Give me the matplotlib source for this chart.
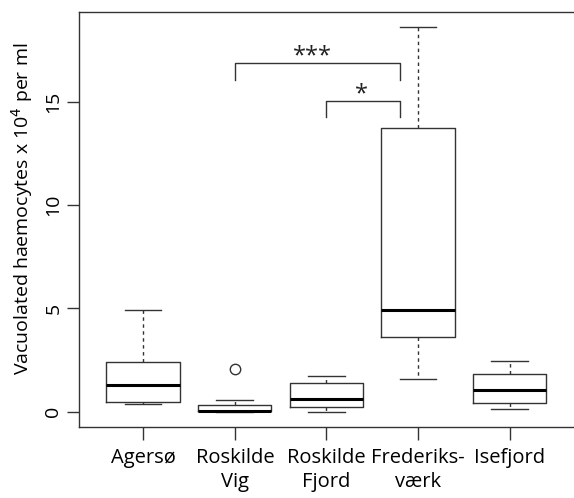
import matplotlib
matplotlib.use('Agg')
import matplotlib.pyplot as plt

plt.rcParams['font.family'] = ['Open Sans', 'DejaVu Sans']

sites = ['Agersø', 'Roskilde\nVig', 'Roskilde\nFjord', 'Frederiks-\nværk', 'Isefjord']

# box statistics (x 10^4 cells per ml)
whislo = [0.37, 0.0, 0.0, 1.56, 0.14]
q1 = [0.47, 0.01, 0.24, 3.61, 0.42]
med = [1.29, 0.05, 0.60, 4.91, 1.05]
q3 = [2.42, 0.34, 1.37, 13.73, 1.80]
whishi = [4.90, 0.55, 1.72, 18.63, 2.45]
fliers = [[], [2.04], [], [], []]

# significance brackets: from box, to box, bracket top, leg bottom, label
sig_from = [2, 3]
sig_to = [3.8, 3.8]
sig_top = [16.86, 15.02]
sig_leg = [16.04, 14.27]
sig_label = ['***', '*']

stats = []
for i in range(len(sites)):
    stats.append(dict(med=med[i], q1=q1[i], q3=q3[i], whislo=whislo[i],
                      whishi=whishi[i], fliers=fliers[i]))

fig = plt.figure(figsize=(5.74, 4.98), dpi=100)
ax = fig.add_axes([0.1376, 0.1426, 0.8624, 0.8333])

grey = '#333333'
ax.bxp(stats, positions=range(1, 6), widths=0.8,
       boxprops=dict(color=grey, lw=1.0),
       medianprops=dict(color='black', lw=2.2),
       whiskerprops=dict(color=grey, lw=1.0, linestyle=(0, (2.5, 2.5))),
       capprops=dict(color=grey, lw=1.0),
       capwidths=0.4,
       flierprops=dict(marker='o', markerfacecolor='none', markeredgecolor=grey,
                       markersize=7.5, markeredgewidth=1.0))

for a, b, top, leg, lab in zip(sig_from, sig_to, sig_top, sig_leg, sig_label):
    ax.plot([a, a, b, b], [leg, top, top, leg], color=grey, lw=1.0)
    shift = 0.055 if len(lab) > 1 else 0.02
    ax.text((a + b) / 2 - shift, top + 0.02, lab, ha='center', va='baseline',
            fontsize=17, color='#222222')

ax.set_xlim(0.3, 5.7)
ax.set_ylim(-0.744, 19.34)
ax.set_yticks([0, 5, 10, 15])
ax.set_xticks(range(1, 6))
ax.set_xticklabels(sites, fontsize=14.5, linespacing=1.3)
for t in ax.get_yticklabels():
    t.set_rotation(90)
    t.set_va('center')
    t.set_fontsize(14)
ax.tick_params(length=9, width=1.0, color=grey, pad=6)
ax.tick_params(axis='y', pad=3)
ax.set_ylabel('Vacuolated haemocytes x 10$^4$ per ml', fontsize=14)
ax.yaxis.set_label_coords(-0.089, 0.525)
ax.spines['right'].set_visible(False)
for s in ['left', 'top', 'bottom']:
    ax.spines[s].set_color(grey)
    ax.spines[s].set_linewidth(1.0)

fig.savefig('out.png', dpi=100)
